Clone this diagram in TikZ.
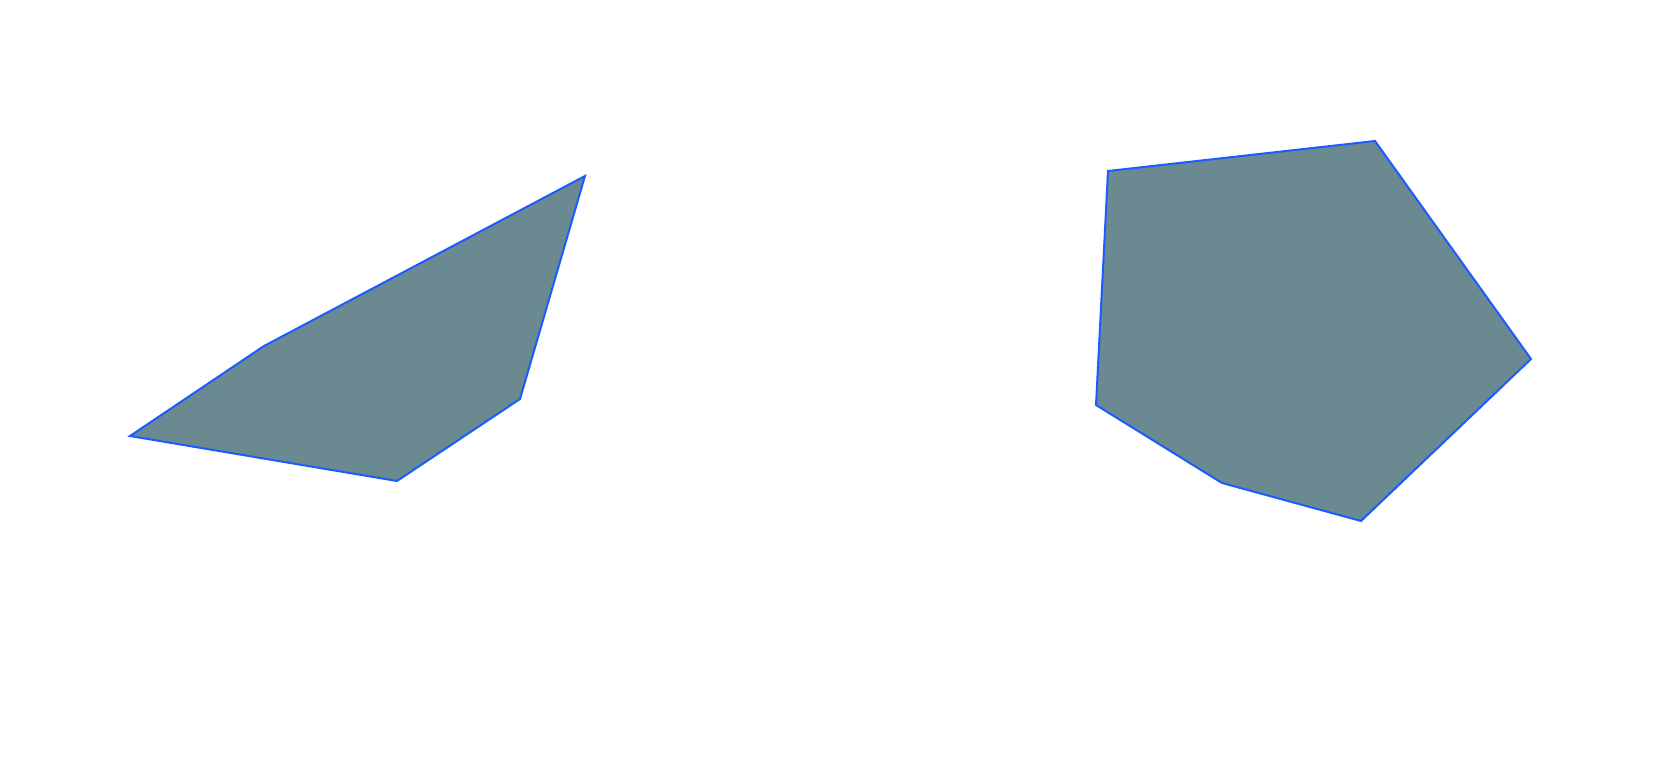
\documentclass[tikz,border=0pt]{standalone}
\definecolor{polyfill}{HTML}{6B8990}
\definecolor{polyline}{HTML}{1A5CFF}
\tikzset{poly/.style={fill=polyfill, draw=polyline, line width=2pt, line join=miter}}
\begin{document}
\begin{tikzpicture}[x=1pt,y=-1pt]
\useasboundingbox[fill=white] (0,0) rectangle (1678,776);
\coordinate (a1) at (130,436);
\coordinate (a2) at (264,346);
\coordinate (a3) at (585,176);
\coordinate (a4) at (520,399);
\coordinate (a5) at (397,481);
\draw[poly] (a1) -- (a2) -- (a3) -- (a4) -- (a5) -- cycle;
\coordinate (b1) at (1108,171);
\coordinate (b2) at (1375,141);
\coordinate (b3) at (1531,359);
\coordinate (b4) at (1361,521);
\coordinate (b5) at (1222,483);
\coordinate (b6) at (1096,405);
\draw[poly] (b1) -- (b2) -- (b3) -- (b4) -- (b5) -- (b6) -- cycle;
\end{tikzpicture}
\end{document}
